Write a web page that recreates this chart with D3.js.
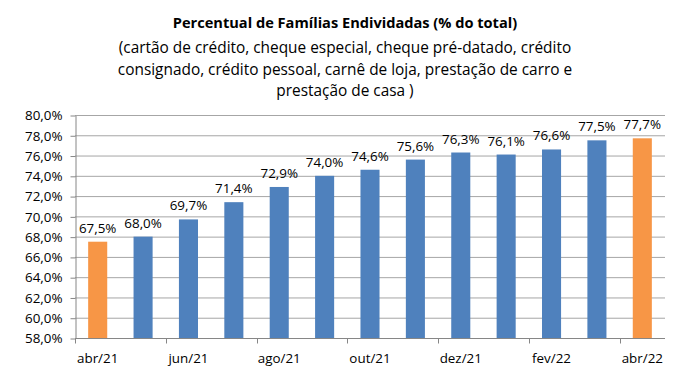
<!DOCTYPE html>
<html>
<head>
<meta charset="utf-8">
<script src="https://cdn.jsdelivr.net/npm/d3@7"></script>
<style>
  body { margin: 0; background: #fff; }
  svg text { font-family: "Open Sans", sans-serif; fill: #000; }
  .grid line { stroke: #a6a6a6; stroke-width: 1; }
  .axis path, .axis line { stroke: #868686; }
</style>
</head>
<body>
<svg width="689" height="380"></svg>
<script>
var months = ["abr/21","mai/21","jun/21","jul/21","ago/21","set/21","out/21","nov/21","dez/21","jan/22","fev/22","mar/22","abr/22"];
var values = [67.5, 68.0, 69.7, 71.4, 72.9, 74.0, 74.6, 75.6, 76.3, 76.1, 76.6, 77.5, 77.7];
var highlight = ["abr/21", "abr/22"];
var yTicks = [58,60,62,64,66,68,70,72,74,76,78,80];
var titleLines = [
  "(cartão de crédito, cheque especial, cheque pré-datado, crédito",
  "consignado, crédito pessoal, carnê de loja, prestação de carro e",
  "prestação de casa )"
];

var svg = d3.select("svg"),
    margin = {left: 75, right: 24, top: 115, bottom: 42},
    width = +svg.attr("width"),
    height = +svg.attr("height");

var x = d3.scaleBand()
    .domain(months)
    .range([margin.left, width - margin.right])
    .paddingInner(0.58)
    .paddingOuter(0.29);

var y = d3.scaleLinear()
    .domain([58, 80])
    .range([height - margin.bottom, margin.top]);

var fmt = function(v) { return d3.format(".1f")(v).replace(".", ",") + "%"; };

// title
svg.append("text")
    .attr("x", 345).attr("y", 28)
    .attr("text-anchor", "middle")
    .style("font-weight", "bold").style("font-size", "14.6px")
    .text("Percentual de Famílias Endividadas (% do total)");

svg.selectAll(".sub")
  .data(titleLines)
  .enter().append("text")
    .attr("class", "sub")
    .attr("x", 345)
    .attr("y", function(d, i) { return 53 + i * 21.5; })
    .attr("text-anchor", "middle")
    .style("font-size", "15.4px")
    .text(function(d) { return d; });

// gridlines
svg.append("g")
    .attr("class", "grid")
  .selectAll("line")
  .data(yTicks.slice(1))
  .enter().append("line")
    .attr("x1", margin.left).attr("x2", width - margin.right)
    .attr("y1", function(d) { return y(d) + 0.5; })
    .attr("y2", function(d) { return y(d) + 0.5; });

// y axis
svg.append("g")
    .attr("class", "axis")
    .attr("transform", "translate(" + (margin.left + 0.5) + ",0.5)")
    .call(d3.axisLeft(y).tickValues(yTicks).tickSize(5).tickSizeOuter(0).tickFormat(fmt))
    .call(function(g) {
      g.selectAll("text").style("font-size", "13.4px").attr("x", -13).attr("fill", "#000");
    });

// bars
svg.selectAll(".bar")
  .data(values)
  .enter().append("rect")
    .attr("class", "bar")
    .attr("x", function(d, i) { return x(months[i]); })
    .attr("width", x.bandwidth())
    .attr("y", function(d) { return y(d); })
    .attr("height", function(d) { return y(58) - y(d); })
    .attr("fill", function(d, i) { return highlight.indexOf(months[i]) >= 0 ? "#f79646" : "#4f81bd"; });

// labels
svg.selectAll(".lbl")
  .data(values)
  .enter().append("text")
    .attr("class", "lbl")
    .attr("x", function(d, i) { return x(months[i]) + x.bandwidth() / 2; })
    .attr("y", function(d) { return y(d) - 9; })
    .attr("text-anchor", "middle")
    .style("font-size", "13.4px")
    .text(fmt);

// x axis
var step = x.step();
var xAxis = svg.append("g")
    .attr("class", "axis")
    .attr("transform", "translate(0," + (y(58) + 0.5) + ")");
xAxis.append("line")
    .attr("x1", margin.left).attr("x2", width - margin.right);
xAxis.selectAll(".tk")
  .data(months.filter(function(d, i) { return i % 2 === 0; }))
  .enter().append("line")
    .attr("class", "tk")
    .attr("x1", function(d) { return Math.round(x(d) - x.paddingOuter() * step) + 0.5; })
    .attr("x2", function(d) { return Math.round(x(d) - x.paddingOuter() * step) + 0.5; })
    .attr("y1", 0).attr("y2", 5);
xAxis.selectAll("text")
  .data(months.filter(function(d, i) { return i % 2 === 0; }))
  .enter().append("text")
    .attr("x", function(d) { return x(d) + x.bandwidth() / 2; })
    .attr("y", 24)
    .attr("text-anchor", "middle")
    .style("font-size", "13.4px")
    .text(function(d) { return d; });
</script>
</body>
</html>
